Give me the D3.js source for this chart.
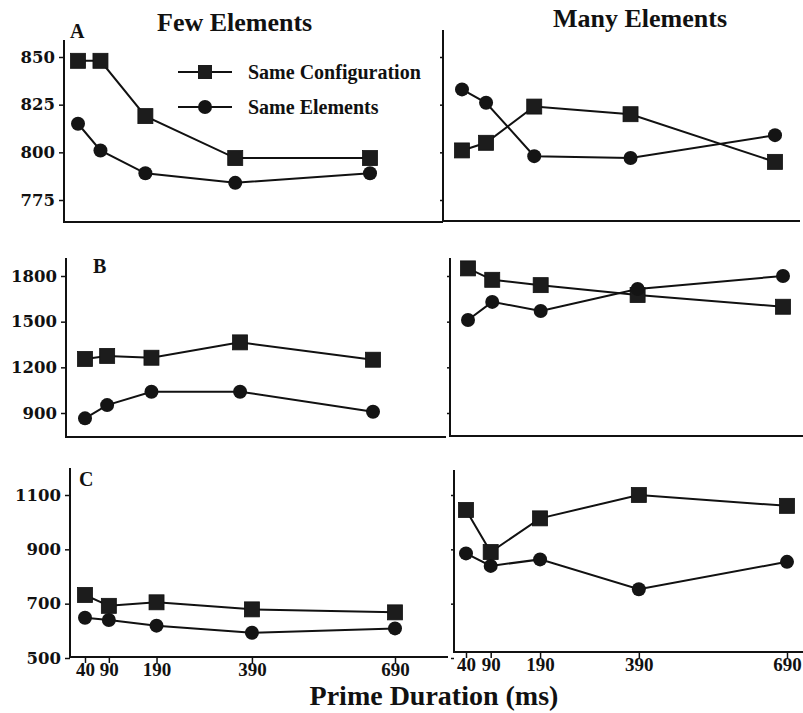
<!DOCTYPE html>
<html><head><meta charset="utf-8">
<script src="https://cdn.jsdelivr.net/npm/d3@7"></script>
<style>body{margin:0;background:#fff}svg{display:block}</style>
</head><body>
<svg id="c" width="803" height="713"></svg>
<script>
// ---------- data ----------
const durations = [40, 90, 190, 390, 690];
const seriesNames = ["Same Configuration", "Same Elements"];
const rowLabels = ["A", "B", "C"];
const columnTitles = ["Few Elements", "Many Elements"];
const xTitle = "Prime Duration (ms)";

const yTicksA = [775, 800, 825, 850];
const yTicksB = [900, 1200, 1500, 1800];
const yTicksC = [500, 700, 900, 1100];

const aFewConfig  = [848, 848, 819, 797, 797];
const aFewElem    = [815, 801, 789, 784, 789];
const aManyConfig = [801, 805, 824, 820, 795];
const aManyElem   = [833, 826, 798, 797, 809];

const bFewConfig  = [1255, 1275, 1263, 1364, 1250];
const bFewElem    = [865, 952, 1040, 1040, 908];
const bManyConfig = [1850, 1775, 1740, 1675, 1598];
const bManyElem   = [1511, 1630, 1570, 1715, 1800];

const cFewConfig  = [732, 692, 705, 679, 668];
const cFewElem    = [648, 640, 619, 593, 609];
const cManyConfig = [1045, 890, 1014, 1100, 1060];
const cManyElem   = [885, 839, 863, 753, 854];

// ---------- layout ----------
const rows = [
  { label: rowLabels[0], ticks: yTicksA, yRef: [yTicksA[0], yTicksA[3]], yPix: [200, 57],
    labelPos: [70, 38],
    panels: [
      { config: aFewConfig, elem: aFewElem, axisX: 64, top: 40, bottom: 222, xr: [78, 370], end: 443, showLabels: true },
      { config: aManyConfig, elem: aManyElem, axisX: 443, top: 30, bottom: 221, xr: [462, 775], end: 800, showLabels: false }
    ] },
  { label: rowLabels[1], ticks: yTicksB, yRef: [yTicksB[0], yTicksB[3]], yPix: [413, 276],
    labelPos: [93, 273],
    panels: [
      { config: bFewConfig, elem: bFewElem, axisX: 66, top: 258, bottom: 437, xr: [85, 373], end: 446, showLabels: true },
      { config: bManyConfig, elem: bManyElem, axisX: 450, top: 258, bottom: 436, xr: [468, 783], end: 803, showLabels: false }
    ] },
  { label: rowLabels[2], ticks: yTicksC, yRef: [yTicksC[0], yTicksC[3]], yPix: [658, 495],
    labelPos: [79, 486],
    panels: [
      { config: cFewConfig, elem: cFewElem, axisX: 70, top: 468, bottom: 657, xr: [85, 395], end: 448, showLabels: true, xAxis: true, xLabelY: 676 },
      { config: cManyConfig, elem: cManyElem, axisX: 454, top: 470, bottom: 652, xr: [466, 787], end: 803, showLabels: false, xAxis: true, xLabelY: 671 }
    ] }
];

const svg = d3.select("#c");
const ink = "#111";
const serif = "'Liberation Serif', 'Times New Roman', serif";
const wideSerif = "'DejaVu Serif', serif";

rows.forEach(row => {
  const y = d3.scaleLinear().domain(row.yRef).range(row.yPix);
  row.panels.forEach(p => {
    const x = d3.scaleLinear().domain([durations[0], durations[durations.length - 1]]).range(p.xr);
    const g = svg.append("g");
    // axis lines
    g.append("line").attr("x1", p.axisX).attr("x2", p.axisX).attr("y1", p.top).attr("y2", p.bottom)
      .attr("stroke", ink).attr("stroke-width", 2);
    g.append("line").attr("x1", p.axisX - 1).attr("x2", p.end).attr("y1", p.bottom).attr("y2", p.bottom)
      .attr("stroke", ink).attr("stroke-width", 2);
    // y axis ticks
    const ya = g.append("g").attr("transform", `translate(${p.axisX},0)`)
      .call(d3.axisLeft(y).tickValues(row.ticks).tickSize(p.showLabels ? 5 : 3).tickPadding(4)
        .tickFormat(p.showLabels ? d3.format("d") : () => ""));
    ya.select(".domain").remove();
    ya.selectAll(".tick line").attr("stroke", ink).attr("stroke-width", 1.5);
    ya.selectAll(".tick text").attr("fill", ink).style("font-family", wideSerif)
      .style("font-weight", "bold").style("font-size", "16.5px");
    // x axis ticks
    if (p.xAxis) {
      const xa = g.append("g").attr("transform", `translate(0,${p.bottom})`)
        .call(d3.axisBottom(x).tickValues(durations).tickSize(6).tickFormat(d3.format("d")));
      xa.select(".domain").remove();
      xa.selectAll(".tick line").attr("stroke", ink).attr("stroke-width", 1.5);
      xa.selectAll(".tick text").attr("fill", ink).attr("y", p.xLabelY - p.bottom).attr("dy", 0)
        .style("font-family", serif).style("font-weight", "bold").style("font-size", "19px");
    }
    // series
    const line = d3.line().x((d, i) => x(durations[i])).y(d => y(d));
    [p.config, p.elem].forEach((vals, si) => {
      g.append("path").datum(vals).attr("d", line).attr("fill", "none")
        .attr("stroke", ink).attr("stroke-width", 2);
      if (si === 0) {
        g.selectAll(null).data(vals).enter().append("rect")
          .attr("x", (d, i) => x(durations[i]) - 7.5).attr("y", d => y(d) - 7.5)
          .attr("width", 15).attr("height", 15).attr("fill", "#1c1c1c")
          .attr("stroke", ink).attr("stroke-width", 0.8);
      } else {
        g.selectAll(null).data(vals).enter().append("circle")
          .attr("cx", (d, i) => x(durations[i])).attr("cy", d => y(d)).attr("r", 7)
          .attr("fill", "#141414");
      }
    });
  });
  svg.append("text").attr("x", row.labelPos[0]).attr("y", row.labelPos[1]).text(row.label)
    .attr("fill", ink).style("font-family", serif).style("font-weight", "bold").style("font-size", "20px");
});

// column titles
svg.append("text").attr("x", 157).attr("y", 31).text(columnTitles[0])
  .attr("fill", ink).style("font-family", serif).style("font-weight", "bold").style("font-size", "26px");
svg.append("text").attr("x", 553).attr("y", 27).text(columnTitles[1])
  .attr("fill", ink).style("font-family", serif).style("font-weight", "bold").style("font-size", "26px");

// legend
const legend = svg.append("g");
seriesNames.forEach((name, i) => {
  const ly = 72 + i * 35;
  legend.append("line").attr("x1", 178).attr("x2", 232).attr("y1", ly).attr("y2", ly)
    .attr("stroke", ink).attr("stroke-width", 2);
  if (i === 0) {
    legend.append("rect").attr("x", 198).attr("y", ly - 7).attr("width", 14).attr("height", 14).attr("fill", "#1c1c1c");
  } else {
    legend.append("circle").attr("cx", 205).attr("cy", ly).attr("r", 7).attr("fill", "#141414");
  }
  legend.append("text").attr("x", 248).attr("y", ly + 7).text(name)
    .attr("fill", ink).style("font-family", serif).style("font-weight", "bold").style("font-size", "20px");
});

// x title
svg.append("text").attr("x", 434).attr("y", 705).attr("text-anchor", "middle").text(xTitle)
  .attr("fill", ink).style("font-family", serif).style("font-weight", "bold").style("font-size", "28px");
</script>
</body></html>
